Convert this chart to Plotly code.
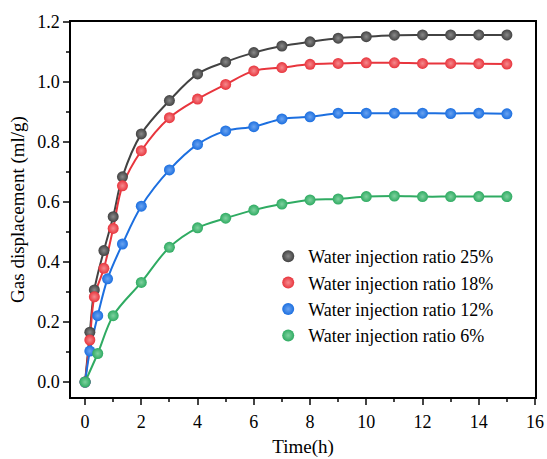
import plotly.graph_objects as go

# Data
t_black = [0, 0.17, 0.33, 0.67, 1, 1.33, 2, 3, 4, 5, 6, 7, 8, 9, 10, 11, 12, 13, 14, 15]
v_black = [0, 0.166, 0.307, 0.438, 0.551, 0.684, 0.827, 0.938, 1.027, 1.067, 1.098, 1.120,
           1.134, 1.146, 1.151, 1.156, 1.157, 1.157, 1.157, 1.157]

t_red = [0, 0.17, 0.33, 0.67, 1, 1.33, 2, 3, 4, 5, 6, 7, 8, 9, 10, 11, 12, 13, 14, 15]
v_red = [0, 0.14, 0.284, 0.379, 0.512, 0.654, 0.771, 0.881, 0.943, 0.992, 1.037, 1.048,
         1.059, 1.062, 1.064, 1.064, 1.062, 1.062, 1.061, 1.060]

t_blue = [0, 0.17, 0.45, 0.8, 1.33, 2, 3, 4, 5, 6, 7, 8, 9, 10, 11, 12, 13, 14, 15]
v_blue = [0, 0.103, 0.221, 0.344, 0.46, 0.586, 0.707, 0.792, 0.837, 0.851, 0.877, 0.884,
          0.896, 0.896, 0.896, 0.896, 0.895, 0.896, 0.894]

t_green = [0, 0.45, 1, 2, 3, 4, 5, 6, 7, 8, 9, 10, 11, 12, 13, 14, 15]
v_green = [0, 0.095, 0.221, 0.332, 0.449, 0.514, 0.546, 0.573, 0.593, 0.607, 0.61, 0.618,
           0.62, 0.618, 0.618, 0.618, 0.618]

names = ["Water injection ratio 25%", "Water injection ratio 18%",
         "Water injection ratio 12%", "Water injection ratio 6%"]
colors = ["#424242", "#e8353d", "#1c6fe0", "#2fab62"]
centers = ["#8a8a8a", "#f58a8e", "#6aa3f0", "#7fd19f"]

series = [(t_black, v_black), (t_red, v_red), (t_blue, v_blue), (t_green, v_green)]

FONT = "Liberation Serif"

fig = go.Figure()
for (t, v), c in zip(series, colors):
    fig.add_trace(go.Scatter(x=t, y=v, mode="lines", line=dict(color=c, width=2, shape="spline", smoothing=1.0),
                             showlegend=False, hoverinfo="skip"))
for (t, v), c, cc, n in zip(series, colors, centers, names):
    fig.add_trace(go.Scatter(x=t, y=v, mode="markers", name=n,
                             marker=dict(size=11, color=c, line=dict(width=0),
                                         gradient=dict(type="radial", color=cc))))

tickfont = dict(family=FONT, size=18, color="black")
titlefont = dict(family=FONT, size=19, color="black")

fig.update_layout(
    width=547, height=459,
    margin=dict(l=71, r=12, t=22, b=62),
    paper_bgcolor="white", plot_bgcolor="white",
    font=dict(family=FONT, size=18, color="black"),
    legend=dict(x=0.425, y=0.424, xanchor="left", yanchor="top", bgcolor="rgba(0,0,0,0)",
                font=dict(family=FONT, size=18, color="black"), tracegroupgap=0, itemsizing="constant"),
    xaxis=dict(range=[-0.5, 16], tickmode="array", tickvals=[0, 2, 4, 6, 8, 10, 12, 14, 16],
               tickfont=tickfont, ticklabelstandoff=2, automargin=False,
               ticks="outside", ticklen=6, tickwidth=1.5, showline=True, linewidth=1.5, linecolor="black",
               mirror=True, showgrid=False, zeroline=False,
               minor=dict(dtick=1, ticks="outside", ticklen=3, tickwidth=1.5, showgrid=False),
               title=dict(text="Time(h)", standoff=8, font=titlefont)),
    yaxis=dict(range=[-0.05, 1.2], tickmode="array", tickvals=[0, 0.2, 0.4, 0.6, 0.8, 1.0, 1.2],
               ticktext=["0.0", "0.2", "0.4", "0.6", "0.8", "1.0", "1.2"],
               tickfont=tickfont, automargin=False,
               ticks="outside", ticklen=6, tickwidth=1.5, showline=True, linewidth=1.5, linecolor="black",
               mirror=True, showgrid=False, zeroline=False,
               minor=dict(dtick=0.1, tick0=0, ticks="outside", ticklen=3, tickwidth=1.5, showgrid=False),
               title=dict(text="Gas displacement (ml/g)", standoff=8, font=titlefont)),
)

fig.write_html("out.html")
